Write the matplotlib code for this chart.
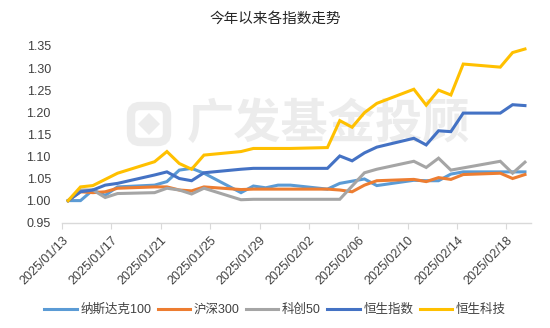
import matplotlib
matplotlib.use('Agg')
import matplotlib.pyplot as plt
import matplotlib.patches as mpatches
import matplotlib.transforms as mtransforms
import pandas as pd

plt.rcParams['font.family'] = ['Liberation Sans', 'Noto Sans CJK SC', 'DejaVu Sans']

# trading days shown in the chart
dates = ['2025-01-13', '2025-01-14', '2025-01-15', '2025-01-16', '2025-01-17',
         '2025-01-20', '2025-01-21', '2025-01-22', '2025-01-23', '2025-01-24',
         '2025-01-27', '2025-01-28', '2025-01-29', '2025-01-30', '2025-01-31',
         '2025-02-03', '2025-02-04', '2025-02-05', '2025-02-06', '2025-02-07',
         '2025-02-10', '2025-02-11', '2025-02-12', '2025-02-13', '2025-02-14',
         '2025-02-17', '2025-02-18', '2025-02-19']

nasdaq100 = [1.000, 1.000, 1.024, 1.012, 1.031, 1.035, 1.043, 1.069, 1.073, 1.062,
             1.018, 1.033, 1.029, 1.035, 1.035, 1.026, 1.039, 1.044, 1.049, 1.034,
             1.046, 1.045, 1.045, 1.060, 1.065, 1.065, 1.065, 1.065]
hs300 = [1.000, 1.020, 1.018, 1.020, 1.028, 1.031, 1.031, 1.024, 1.022, 1.031,
         1.025, 1.026, 1.026, 1.026, 1.026, 1.026, 1.024, 1.020, 1.035, 1.045,
         1.048, 1.043, 1.052, 1.048, 1.059, 1.062, 1.050, 1.059]
star50 = [1.000, 1.024, 1.024, 1.007, 1.016, 1.018, 1.028, 1.024, 1.015, 1.028,
          1.002, 1.003, 1.003, 1.003, 1.003, 1.003, 1.003, 1.033, 1.063, 1.071,
          1.089, 1.075, 1.096, 1.069, 1.074, 1.089, 1.062, 1.087]
hsi = [1.000, 1.020, 1.024, 1.035, 1.039, 1.058, 1.065, 1.050, 1.045, 1.063,
       1.071, 1.073, 1.073, 1.073, 1.073, 1.073, 1.101, 1.090, 1.108, 1.121,
       1.141, 1.126, 1.158, 1.156, 1.198, 1.198, 1.217, 1.215]
hstech = [1.000, 1.031, 1.034, 1.048, 1.062, 1.088, 1.111, 1.084, 1.071, 1.103,
          1.111, 1.118, 1.118, 1.118, 1.118, 1.120, 1.181, 1.166, 1.199, 1.220,
          1.252, 1.216, 1.250, 1.239, 1.309, 1.302, 1.335, 1.343]

names = ['纳斯达克100', '沪深300', '科创50', '恒生指数', '恒生科技']
colors = ['#5B9BD5', '#ED7D31', '#A5A5A5', '#4472C4', '#FFC000']
series = [nasdaq100, hs300, star50, hsi, hstech]

start = pd.Timestamp('2025-01-13')
days = [(pd.Timestamp(d) - start).days + 0.5 for d in dates]
tick_days = list(range(0, 37, 4))
tick_labels = [(start + pd.Timedelta(days=t)).strftime('%Y/%m/%d') for t in tick_days]

fig = plt.figure(figsize=(5.5, 3.28), dpi=100)
ax = fig.add_axes([0.1127, 0.321, 0.853, 0.539])

# watermark (logo + text), pixel coords from bottom-left
wm = '#ececec'
px = mtransforms.IdentityTransform()
fig.add_artist(mpatches.FancyBboxPatch((131, 186), 36, 36, boxstyle='round,pad=0,rounding_size=9',
                                       fill=False, ec=wm, lw=6, transform=px, zorder=-2))
fig.add_artist(mpatches.RegularPolygon((149, 204), 4, radius=11, fc=wm, ec='none',
                                       transform=px, zorder=-2))
fig.text(0.598, 0.622, '广发基金投顾', fontsize=34, fontweight='bold',
         color=wm, ha='center', va='center', family='Noto Sans CJK SC', zorder=-2)

for vals, name, c in zip(series, names, colors):
    ax.plot(days, vals, color=c, lw=2.2, label=name, solid_joinstyle='miter')

ax.set_xlim(0, 38)
ax.set_ylim(0.95, 1.35)
ax.set_yticks([0.95, 1.00, 1.05, 1.10, 1.15, 1.20, 1.25, 1.30, 1.35])
ax.set_yticklabels([f'{v:.2f}' for v in ax.get_yticks()])
ax.set_xticks(tick_days)
ax.set_xticklabels(tick_labels, rotation=45, ha='right', rotation_mode='anchor')
ax.patch.set_alpha(0)

for s in ['top', 'right', 'left']:
    ax.spines[s].set_visible(False)
ax.spines['bottom'].set_color('#d9d9d9')
ax.spines['bottom'].set_linewidth(1.0)
ax.tick_params(axis='y', length=0, labelsize=9, labelcolor='#404040', pad=8)
ax.tick_params(axis='x', length=4, color='#d9d9d9', labelsize=9, labelcolor='#404040', pad=4)

fig.suptitle('今年以来各指数走势', y=0.965, fontsize=10.5, color='#262626')
fig.legend(loc='center', bbox_to_anchor=(0.5, 0.055), ncol=5, frameon=False,
           fontsize=9, handlelength=2.6, handletextpad=0.3, columnspacing=0.5,
           labelcolor='#404040')

fig.savefig('out.png', dpi=100)
